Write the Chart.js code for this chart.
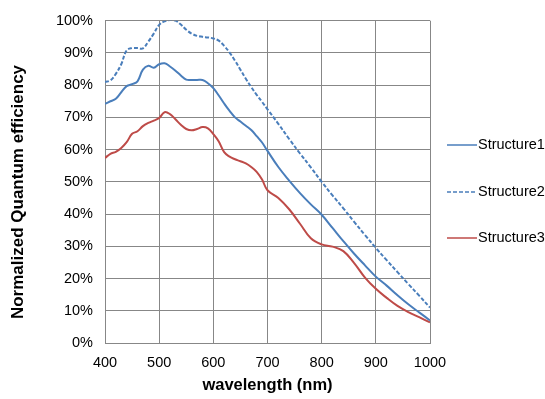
<!DOCTYPE html>
<html>
<head>
<meta charset="utf-8">
<script src="https://cdn.jsdelivr.net/npm/chart.js@4"></script>
<style>
  html, body { margin: 0; padding: 0; background: #fff; }
  #wrap { width: 545px; height: 399px; }
</style>
</head>
<body>
<div id="wrap"><canvas id="qeChart" width="545" height="399"></canvas></div>
<script>
// wavelength (nm)
var wavelengths = [400, 410, 420, 430, 440, 450, 460, 470, 480, 490, 500, 510, 520, 530, 540, 550, 560, 570, 580, 590, 600,
    610, 620, 630, 640, 650, 660, 670, 680, 690, 700,
    720, 740, 760, 780, 800, 820, 840, 860, 880, 900, 920, 940, 960, 980, 1000];

// normalized QE (%)
var structure1 = [74.2, 75.0, 75.8, 77.8, 79.7, 80.3, 81.2, 84.8, 86.0, 85.4, 86.5, 86.8, 85.8, 84.5, 83.0, 81.7, 81.6, 81.6, 81.6, 80.6, 79.1,
    76.8, 74.3, 72.0, 70.0, 68.7, 67.4, 66.1, 64.2, 62.2, 59.6,
    54.6, 50.4, 46.5, 43.0, 39.8, 35.7, 31.6, 27.7, 24.1, 20.6, 17.8, 14.8, 12.0, 9.5, 7.0];
var structure2 = [81.0, 81.5, 83.5, 86.5, 90.8, 91.5, 91.5, 91.4, 93.5, 96.0, 98.7, 99.8, 100.2, 100.0, 98.8, 97.2, 96.0, 95.3, 95.0, 94.8, 94.5,
    93.8, 92.2, 90.1, 87.6, 84.8, 82.0, 79.4, 77.0, 74.8, 72.5,
    68.0, 63.3, 58.8, 54.5, 50.0, 45.8, 41.8, 37.6, 33.5, 29.5, 25.7, 22.0, 18.3, 14.7, 11.0];
var structure3 = [57.4, 58.7, 59.3, 60.5, 62.3, 64.9, 65.7, 67.3, 68.3, 69.0, 69.8, 71.6, 71.0, 69.4, 67.7, 66.4, 66.0, 66.4, 67.0, 66.6, 64.8,
    62.5, 59.2, 57.8, 57.0, 56.4, 55.7, 54.6, 53.1, 50.7, 47.4,
    45.0, 41.5, 37.0, 32.5, 30.6, 29.9, 28.5, 24.8, 20.3, 16.8, 14.0, 11.5, 9.6, 8.0, 6.4];

var seriesNames = ['Structure1', 'Structure2', 'Structure3'];
var xTicks = [400, 500, 600, 700, 800, 900, 1000];
var yTicks = [0, 10, 20, 30, 40, 50, 60, 70, 80, 90, 100];

function toPoints(vals) {
    return vals.map(function (v, i) { return { x: wavelengths[i], y: v }; });
}

var gridColor = '#878787';
var fontFamily = 'Arial, "Liberation Sans", sans-serif';

// legend at right + y axis title, Excel style
var sideLegend = {
    id: 'sideLegend',
    afterDraw: function (chart) {
        var ctx = chart.ctx;
        var ys = [145, 192, 238];
        ctx.save();
        chart.data.datasets.forEach(function (ds, i) {
            ctx.beginPath();
            ctx.strokeStyle = ds.borderColor;
            ctx.lineWidth = 1.5;
            ctx.setLineDash(ds.borderDash || []);
            ctx.moveTo(447, ys[i]);
            ctx.lineTo(477, ys[i]);
            ctx.stroke();
            ctx.setLineDash([]);
            ctx.fillStyle = '#000';
            ctx.font = '14.5px ' + fontFamily;
            ctx.textBaseline = 'middle';
            ctx.textAlign = 'left';
            ctx.fillText(ds.label, 478, ys[i]);
        });
        // y title
        ctx.translate(18, 192);
        ctx.rotate(-Math.PI / 2);
        ctx.font = 'bold 17px ' + fontFamily;
        ctx.textAlign = 'center';
        ctx.textBaseline = 'middle';
        ctx.fillStyle = '#000';
        ctx.fillText('Normalized Quantum efficiency', 0, 0);
        ctx.restore();
    }
};

var ctx = document.getElementById('qeChart').getContext('2d');
var qeChart = new Chart(ctx, {
    type: 'line',
    data: {
        datasets: [{
            label: seriesNames[0],
            data: toPoints(structure1),
            borderColor: '#4a7ebb',
            borderWidth: 2,
            pointRadius: 0,
            tension: 0.4,
            fill: false
        }, {
            label: seriesNames[1],
            data: toPoints(structure2),
            borderColor: '#4a7ebb',
            borderWidth: 2,
            borderDash: [4, 2],
            pointRadius: 0,
            tension: 0.4,
            fill: false
        }, {
            label: seriesNames[2],
            data: toPoints(structure3),
            borderColor: '#be4b48',
            borderWidth: 2,
            pointRadius: 0,
            tension: 0.4,
            fill: false
        }]
    },
    options: {
        responsive: false,
        animation: false,
        layout: { padding: { left: 0, right: 115, top: 17, bottom: 0 } },
        plugins: {
            legend: { display: false },
            tooltip: { enabled: false }
        },
        scales: {
            x: {
                type: 'linear',
                min: 400,
                max: 1000,
                afterBuildTicks: function (scale) {
                    scale.ticks = xTicks.map(function (v) { return { value: v }; });
                },
                afterFit: function (scale) { scale.height = 56; },
                grid: { color: gridColor, lineWidth: 1, drawTicks: false },
                border: { color: gridColor },
                ticks: {
                    color: '#000',
                    padding: 11,
                    maxRotation: 0,
                    font: { family: fontFamily, size: 14.5 },
                    callback: function (v) { return String(v); }
                },
                title: {
                    display: true,
                    text: 'wavelength (nm)',
                    color: '#000',
                    padding: { top: 6 },
                    font: { family: fontFamily, size: 16.5, weight: 'bold' }
                }
            },
            y: {
                min: 0,
                max: 100,
                afterBuildTicks: function (scale) {
                    scale.ticks = yTicks.map(function (v) { return { value: v }; });
                },
                afterFit: function (scale) { scale.width = 105; },
                grid: { color: gridColor, lineWidth: 1, drawTicks: false },
                border: { color: gridColor },
                ticks: {
                    color: '#000',
                    padding: 12,
                    font: { family: fontFamily, size: 14.5 },
                    callback: function (v) { return v + '%'; }
                }
            }
        }
    },
    plugins: [sideLegend]
});
</script>
</body>
</html>
